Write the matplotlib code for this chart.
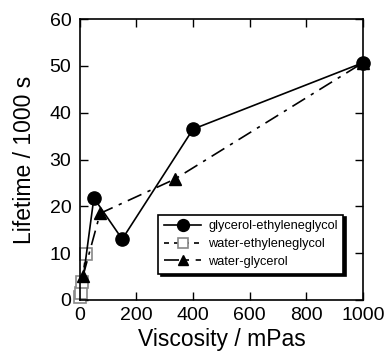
import matplotlib.pyplot as plt

# viscosity (mPas) vs lifetime (1000 s)
gly_eg_x = [12, 50, 150, 400, 1000]
gly_eg_y = [4.5, 21.8, 13.0, 36.5, 50.7]

water_eg_x = [2, 4, 8, 22]
water_eg_y = [0.6, 1.6, 3.9, 9.8]

water_gly_x = [12, 72, 335, 1000]
water_gly_y = [5.2, 18.5, 25.8, 50.7]

x_ticks = [0, 200, 400, 600, 800, 1000]
y_ticks = [0, 10, 20, 30, 40, 50, 60]

plt.rcParams['font.family'] = ['Liberation Sans', 'DejaVu Sans']

fig = plt.figure(figsize=(3.85, 3.61), dpi=100)
ax = fig.add_axes([0.207, 0.169, 0.736, 0.778])

ax.plot(water_eg_x, water_eg_y, linestyle=(0, (3, 3)), color='black', lw=1.2,
        marker='s', ms=8.5, mfc='white', mec='#888888', mew=1.2,
        label='water-ethyleneglycol', zorder=2, clip_on=False)
ax.plot(water_gly_x, water_gly_y, linestyle=(0, (9, 4, 2, 4)), color='black', lw=1.2,
        marker='^', ms=8, mfc='black', mec='black',
        label='water-glycerol', zorder=4, clip_on=False)
ax.plot(gly_eg_x, gly_eg_y, linestyle='-', color='black', lw=1.2,
        marker='o', ms=9.5, mfc='black', mec='black', markevery=[1, 2, 3, 4],
        label='glycerol-ethyleneglycol', zorder=3, clip_on=False)

ax.set_xlim(0, 1000)
ax.set_ylim(0, 60)
ax.set_xticks(x_ticks)
ax.set_yticks(y_ticks)
ax.tick_params(direction='in', length=5.5, width=1, top=True, right=True,
               labelsize=14)
ax.tick_params(axis='x', pad=5)
ax.tick_params(axis='y', pad=6)
for s in ax.spines.values():
    s.set_linewidth(1.2)

ax.set_xlabel('Viscosity / mPas', fontsize=16.5, labelpad=3)
ax.set_ylabel('Lifetime / 1000 s', fontsize=16.5, labelpad=10)

handles, labels = ax.get_legend_handles_labels()
order = [2, 0, 1]
leg = ax.legend([handles[i] for i in order], [labels[i] for i in order],
                loc='lower right', bbox_to_anchor=(0.94, 0.085), fontsize=9.2,
                frameon=True, fancybox=False,
                shadow={'color': 'black', 'alpha': 1, 'ox': 2, 'oy': -2},
                handlelength=2.9, borderpad=0.45, labelspacing=0.45,
                handletextpad=0.55, borderaxespad=0.2, markerscale=0.9)
leg.get_frame().set_edgecolor('black')
leg.get_frame().set_linewidth(1.2)
leg.set_zorder(5)

fig.savefig('out.png', dpi=100)
